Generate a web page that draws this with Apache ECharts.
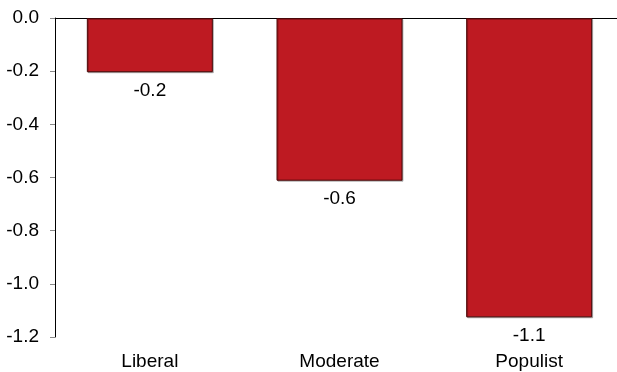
<!DOCTYPE html>
<html>
<head>
<meta charset="utf-8">
<script src="https://cdn.jsdelivr.net/npm/echarts@6/dist/echarts.min.js"></script>
<style>
  html, body { margin: 0; padding: 0; background: #fff; }
  #chart { width: 617px; height: 372px; }
</style>
</head>
<body>
<div id="chart"></div>
<script>
// Average score by group
const categories = ['Liberal', 'Moderate', 'Populist'];
const values = [-0.204, -0.612, -1.126];
const yTicks = { min: -1.2, max: 0, interval: 0.2 };

const font = 'Liberation Sans, Arial, sans-serif';
const fontSize = 19;
const chart = echarts.init(document.getElementById('chart'));

chart.setOption({
  animation: false,
  // the last category band runs slightly past the right edge
  grid: { left: 55, top: 18, width: 569, bottom: 35, outerBoundsMode: 'none', containLabel: false },
  xAxis: [
    {
      type: 'category',
      data: categories,
      position: 'bottom',
      axisLine: { show: false, onZero: false },
      axisTick: { show: false },
      axisLabel: { color: '#000', fontSize: fontSize, fontFamily: font, margin: 15 }
    },
    {
      type: 'category',
      data: categories,
      position: 'top',
      axisLine: { show: true, onZero: false, lineStyle: { color: '#000', width: 1 } },
      axisTick: { show: false },
      axisLabel: { show: false }
    }
  ],
  yAxis: {
    type: 'value',
    min: yTicks.min,
    max: yTicks.max,
    interval: yTicks.interval,
    axisLine: { show: true, lineStyle: { color: '#000', width: 1 } },
    axisTick: { show: true, length: 5, lineStyle: { color: '#888' } },
    splitLine: { show: false },
    axisLabel: {
      color: '#000',
      fontSize: fontSize,
      fontFamily: font,
      margin: 16,
      formatter: v => v.toFixed(1)
    }
  },
  series: [{
    type: 'bar',
    data: values,
    barWidth: 126,
    itemStyle: {
      color: '#be1a22',
      borderColor: '#4a0808',
      borderWidth: 1,
      shadowColor: 'rgba(0,0,0,0.25)',
      shadowOffsetX: 1,
      shadowOffsetY: 1,
      shadowBlur: 0
    },
    label: {
      show: true,
      position: 'bottom',
      distance: 9,
      color: '#000',
      fontSize: fontSize,
      fontFamily: font,
      formatter: p => p.value.toFixed(1)
    }
  }]
});
</script>
</body>
</html>
